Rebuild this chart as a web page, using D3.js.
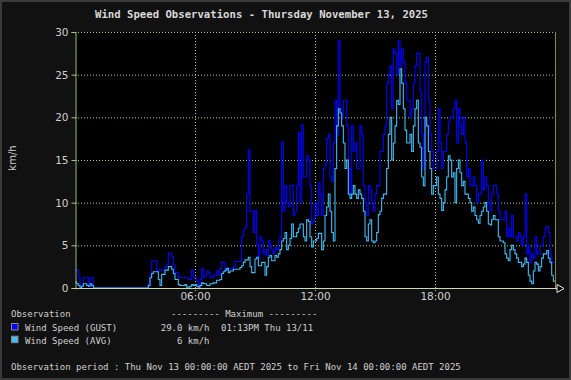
<!DOCTYPE html>
<html>
<head>
<meta charset="utf-8">
<script src="https://cdn.jsdelivr.net/npm/d3@7"></script>
<style>
  body { margin: 0; background: #111; }
  svg { display: block; }
</style>
</head>
<body>
<svg id="chart" width="571" height="380"></svg>
<script>
// wind speed readings, one value every 5 minutes from midnight (km/h)
// each row below is one hour
const startTime = new Date(2025, 10, 13, 0, 0);
const stepMinutes = 5;

const gust = [
  2.1, 2.1, 1.2, 0.3, 0.2, 1.2, 1.2, 1.2, 0.2, 1.2, 1.2, 0,
  0, 0, 0, 0, 0, 0, 0, 0, 0, 0, 0, 0,
  0, 0, 0, 0, 0, 0, 0, 0, 0, 0, 0, 0,
  0, 0, 0, 0, 0, 0, 0, 0, 0.5, 1.5, 3.2, 3.2,
  3.2, 2.1, 2.1, 2.1, 2.1, 2.1, 2.5, 2.8, 4.1, 4.1, 3.7, 2.7,
  1.8, 1.8, 1.2, 1.2, 1.2, 1.2, 1.2, 1.2, 1.0, 1.0, 2.1, 1.2,
  1.2, 0.8, 0.4, 1.0, 2.3, 1.2, 1.5, 2.0, 1.8, 1.2, 1.2, 1.5,
  1.5, 2.0, 1.5, 2.3, 3.0, 3.0, 2.3, 2.1, 2.3, 2.3, 2.3, 2.5,
  3.1, 3.1, 3.1, 3.1, 6.0, 6.8, 7.1, 11.0, 16.2, 9.0, 9.0, 6.5,
  9.1, 5.0, 3.5, 6.0, 5.5, 4.0, 4.5, 3.8, 5.6, 5.0, 4.5, 4.0,
  4.8, 4.5, 5.5, 6.0, 17.1, 9.0, 12.0, 10.0, 9.5, 12.0, 12.0, 8.5,
  9.0, 12.0, 18.2, 10.0, 19.1, 13.0, 13.0, 15.5, 15.0, 12.0, 7.5, 8.0,
  10.0, 8.5, 12.3, 11.0, 8.5, 14.0, 14.5, 17.5, 18.0, 13.0, 12.5, 17.0,
  22.0, 18.0, 29.0, 21.0, 20.0, 22.0, 22.0, 19.0, 14.0, 11.0, 19.0, 16.0,
  17.0, 14.0, 14.0, 19.0, 18.0, 12.0, 10.0, 8.5, 12.0, 11.5, 10.0, 9.0,
  11.0, 12.0, 12.0, 16.0, 16.0, 18.0, 19.0, 24.0, 25.0, 26.0, 21.0, 28.0,
  27.5, 25.0, 29.0, 26.0, 28.0, 26.5, 24.0, 22.0, 22.0, 20.0, 21.0, 24.0,
  26.0, 27.5, 27.5, 23.0, 18.0, 14.0, 26.5, 27.0, 22.0, 18.0, 16.0, 14.0,
  14.0, 16.0, 21.0, 17.0, 14.0, 16.0, 16.0, 18.0, 19.5, 20.0, 20.0, 21.0,
  22.0, 17.0, 21.0, 19.0, 18.0, 20.0, 17.0, 13.0, 14.0, 12.0, 12.0, 13.0,
  12.0, 10.0, 11.0, 11.0, 15.0, 11.5, 13.0, 12.0, 10.0, 9.0, 11.0, 12.0,
  12.0, 11.0, 9.0, 8.0, 8.0, 8.0, 9.0, 6.0, 7.0, 6.0, 8.5, 6.0,
  6.0, 5.5, 6.5, 6.0, 5.0, 6.0, 11.0, 4.0, 5.0, 3.0, 4.0, 3.5,
  6.0, 4.0, 4.0, 5.0, 5.0, 6.0, 7.0, 7.2, 6.5, 4.0, 3.0, 3.0
];

const avg = [
  0.7, 0.5, 0.3, 0, 0.2, 0.5, 0.5, 0.3, 0.2, 0.5, 0.3, 0,
  0, 0, 0, 0, 0, 0, 0, 0, 0, 0, 0, 0,
  0, 0, 0, 0, 0, 0, 0, 0, 0, 0, 0, 0,
  0, 0, 0, 0, 0, 0, 0, 0, 0.3, 1.2, 1.7, 1.9,
  1.9, 1.9, 1.0, 0.3, 1.6, 1.6, 2.1, 2.1, 2.5, 2.5, 2.2, 1.7,
  1.0, 1.0, 0.4, 0.3, 0.3, 0.3, 0.4, 0.1, 0.1, 0.2, 0.4, 0.3,
  0.4, 0.2, 0.1, 0.3, 0.6, 0.5, 0.5, 0.3, 0.3, 0.5, 0.5, 0.6,
  0.6, 0.9, 0.9, 1.0, 1.7, 1.9, 2.1, 2.3, 1.8, 2.0, 2.0, 2.2,
  2.2, 2.2, 2.2, 2.4, 2.6, 3.0, 3.3, 3.3, 3.6, 2.5, 1.8, 1.8,
  3.4, 3.6, 2.6, 2.6, 3.0, 3.0, 1.5, 2.5, 3.6, 3.8, 3.2, 3.2,
  3.8, 3.6, 4.0, 4.5, 5.5, 5.8, 6.5, 4.5, 5.0, 5.8, 7.5, 6.0,
  6.0, 6.5, 7.0, 7.5, 7.5, 6.0, 5.5, 8.0, 7.8, 6.0, 4.8, 5.5,
  5.5, 5.8, 6.4, 6.4, 4.5, 5.5, 8.5, 9.5, 11.0, 9.0, 6.5, 5.5,
  14.0, 19.0, 21.0, 20.5, 19.0, 17.0, 14.0, 15.0, 11.0, 10.5, 11.0, 12.0,
  11.0, 10.5, 11.5, 11.0, 10.5, 9.0, 6.0, 5.5, 7.5, 8.0, 5.5, 5.3,
  5.5, 6.5, 8.6, 9.0, 10.5, 11.0, 11.0, 14.0, 18.0, 20.0, 15.0, 17.0,
  19.0, 22.0, 21.5, 25.7, 24.0, 21.0, 18.5, 17.0, 17.0, 18.0, 16.0, 19.0,
  21.0, 22.0, 17.0, 16.5, 13.0, 12.0, 20.0, 19.0, 16.0, 14.0, 11.0, 12.0,
  12.0, 13.0, 11.0, 10.5, 9.1, 10.0, 11.5, 13.0, 15.5, 15.0, 13.0, 13.5,
  10.0, 14.0, 15.0, 13.5, 12.0, 12.5, 11.0, 11.0, 10.5, 10.0, 9.0, 9.5,
  8.5, 8.0, 7.6, 8.5, 9.0, 9.5, 10.0, 9.0, 7.5, 7.4, 8.0, 8.5,
  8.0, 8.0, 6.0, 5.5, 5.5, 5.3, 4.0, 3.5, 3.2, 4.5, 5.0, 4.5,
  4.0, 3.5, 3.0, 3.0, 2.5, 2.8, 3.5, 3.0, 1.5, 0.8, 0.5, 2.0,
  3.0, 2.8, 2.0, 2.5, 3.5, 4.0, 4.0, 4.4, 3.5, 3.0, 1.5, 0.8
];

const yTicks = [0, 5, 10, 15, 20, 25, 30];
const xTickHours = [6, 12, 18];

const seriesNames = ["Wind Speed (GUST)", "Wind Speed (AVG)"];
const seriesColors = ["#0000ff", "#44bbf4"];
const maxTexts = ["29.0 km/h", "6 km/h"];
const maxWhen = ["01:13PM Thu 13/11", ""];

const titleText = "Wind Speed Observations - Thursday November 13, 2025";
const periodText = "Observation period : Thu Nov 13 00:00:00 AEDT 2025 to Fri Nov 14 00:00:00 AEDT 2025";

// layout
const margin = {top: 32, right: 16, bottom: 92, left: 75};
const W = 571, H = 380;
const width = W - margin.left - margin.right;   // 480
const height = H - margin.top - margin.bottom;  // 256

const mono = "'DejaVu Sans Mono', 'Liberation Mono', monospace";
const sans = "'DejaVu Sans', Verdana, sans-serif";
const textColor = "#d0d0d0";
const gridColor = "#a4d08c";

const svgRoot = d3.select("#chart");

// outer frame
svgRoot.append("rect")
  .attr("x", 1).attr("y", 1)
  .attr("width", W - 2).attr("height", H - 2)
  .attr("fill", "#111")
  .attr("stroke", "#3a3a3a")
  .attr("stroke-width", 2);

// title
svgRoot.append("text")
  .attr("x", 95)
  .attr("y", 18)
  .attr("font-family", mono)
  .attr("font-size", "10.6px")
  .attr("font-weight", "bold")
  .attr("fill", "#d8d8d8")
  .attr("textLength", 333)
  .attr("lengthAdjust", "spacingAndGlyphs")
  .text(titleText);

const svg = svgRoot.append("g")
  .attr("transform", `translate(${margin.left},${margin.top})`);

// scales
const endTime = d3.timeDay.offset(startTime, 1);
const xScale = d3.scaleTime().domain([startTime, endTime]).range([0, width]);
const yScale = d3.scaleLinear().domain([0, 30]).range([height, 0]);

// plot background
svg.append("rect")
  .attr("width", width)
  .attr("height", height)
  .attr("fill", "#000");

// grid lines
svg.selectAll(".hgrid")
  .data(yTicks.filter(d => d > 0))
  .enter().append("line")
  .attr("x1", 0).attr("x2", width + 3)
  .attr("y1", d => yScale(d) + 0.5).attr("y2", d => yScale(d) + 0.5)
  .attr("stroke", gridColor)
  .attr("stroke-dasharray", "1,2");

const tickTimes = xTickHours.map(h => d3.timeHour.offset(startTime, h));
svg.selectAll(".vgrid")
  .data(tickTimes)
  .enter().append("line")
  .attr("x1", d => Math.round(xScale(d)) + 0.5).attr("x2", d => Math.round(xScale(d)) + 0.5)
  .attr("y1", 0).attr("y2", height + 3)
  .attr("stroke", gridColor)
  .attr("stroke-dasharray", "1,2");

// series
const timeOf = i => d3.timeMinute.offset(startTime, i * stepMinutes);
const line = d3.line()
  .x(d => xScale(d.t))
  .y(d => yScale(d.v))
  .curve(d3.curveStepAfter);

[gust, avg].forEach((vals, k) => {
  const pts = vals.map((v, i) => ({t: timeOf(i), v: v}));
  pts.push({t: endTime, v: vals[vals.length - 1]});
  svg.append("path")
    .datum(pts)
    .attr("fill", "none")
    .attr("stroke", seriesColors[k])
    .attr("stroke-width", 1.1)
    .attr("d", line);
});

// right edge of plot
svg.append("line")
  .attr("x1", width + 0.5).attr("x2", width + 0.5)
  .attr("y1", 0).attr("y2", height)
  .attr("stroke", "#8a8a2a");

// y axis
const yAxis = svg.append("g")
  .attr("transform", "translate(0.5,0)")
  .call(d3.axisLeft(yScale).tickValues(yTicks).tickSize(4).tickPadding(3));
yAxis.select(".domain").attr("stroke", "#9cc47a");
yAxis.selectAll(".tick line").attr("stroke", "#9cc47a").attr("x2", -4).attr("x1", 1);
yAxis.selectAll(".tick text")
  .attr("fill", textColor)
  .attr("font-family", sans)
  .attr("font-size", "10.5px");

// x axis
const xAxis = svg.append("g")
  .attr("transform", `translate(0,${height + 0.5})`)
  .call(d3.axisBottom(xScale).tickValues(tickTimes).tickFormat(d3.timeFormat("%H:%M")).tickSize(0).tickPadding(4));
xAxis.select(".domain").remove();
xAxis.selectAll(".tick text")
  .attr("fill", textColor)
  .attr("font-family", sans)
  .attr("font-size", "10.5px");

svg.append("line")
  .attr("x1", -2).attr("x2", width + 5)
  .attr("y1", height + 0.5).attr("y2", height + 0.5)
  .attr("stroke", "#c8d8b8");

// arrow at end of x axis
svg.append("path")
  .attr("d", `M${width + 2},${height - 3.5} L${width + 9},${height + 0.5} L${width + 2},${height + 4.5} Z`)
  .attr("fill", "#000")
  .attr("stroke", "#eee");

// y axis title
svgRoot.append("text")
  .attr("transform", "translate(16,158) rotate(-90)")
  .attr("text-anchor", "middle")
  .attr("font-family", sans)
  .attr("font-size", "10px")
  .attr("fill", textColor)
  .text("km/h");

// legend
const legend = svgRoot.append("g")
  .attr("font-family", mono)
  .attr("font-size", "9px")
  .attr("fill", textColor);

legend.append("text").attr("x", 11).attr("y", 317).text("Observation");
legend.append("text").attr("x", 171).attr("y", 317).text("--------- Maximum ---------");

seriesNames.forEach((name, k) => {
  const y = 331 + k * 12.7;
  legend.append("rect")
    .attr("x", 11.5).attr("y", y - 7.5)
    .attr("width", 6.5).attr("height", 6.5)
    .attr("fill", seriesColors[k])
    .attr("stroke", "#888");
  legend.append("text").attr("x", 25).attr("y", y).text(name);
  legend.append("text").attr("x", 209.5).attr("y", y).attr("text-anchor", "end").text(maxTexts[k]);
  legend.append("text").attr("x", 221).attr("y", y).text(maxWhen[k]);
});

legend.append("text").attr("x", 11).attr("y", 370).text(periodText);
</script>
</body>
</html>
